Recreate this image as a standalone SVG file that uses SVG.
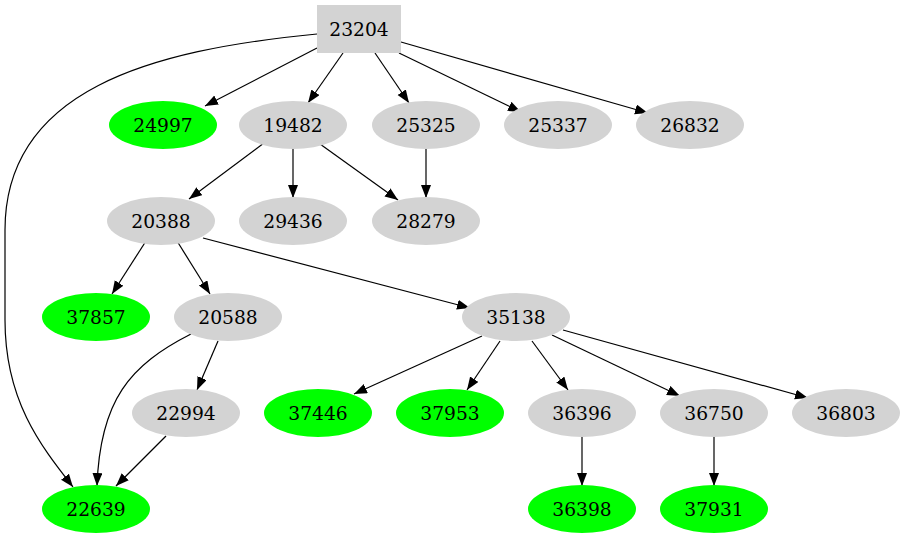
<svg xmlns="http://www.w3.org/2000/svg" width="906" height="539" viewBox="0 0 906 539">
<style>
.g ellipse, .g rect{fill:#d3d3d3;stroke:none}
.v ellipse{fill:#00ff00;stroke:none}
text{font-family:"DejaVu Serif","Liberation Serif",serif;font-size:18.7px;fill:#000;text-anchor:middle}
#edges path{fill:none;stroke:#000;stroke-width:1.2;marker-end:url(#ah)}
</style>
<defs>
<marker id="ah" markerUnits="userSpaceOnUse" markerWidth="14" markerHeight="11" refX="13" refY="5" orient="auto">
<path d="M0,0 L13,5 L0,10 z" fill="#000"/>
</marker>
</defs>
<rect width="906" height="539" fill="#fff"/>
<g id="edges">
<path d="M317,48 L205,106"/>
<path d="M343,53 L308,103"/>
<path d="M375,53 L409,103"/>
<path d="M399,53 L521,112"/>
<path d="M401,42 L648,113"/>
<path d="M317,34 C150,50 5,90 5,230 L5,320 C5,400 40,445 73,487"/>
<path d="M264,143 L189,199"/>
<path d="M293,149 L293,198"/>
<path d="M320,144 L398,200"/>
<path d="M426,149 L426,198"/>
<path d="M146,241 L112,294"/>
<path d="M177,241 L210,294"/>
<path d="M203,238 L470,308"/>
<path d="M191,334 C130,365 100,400 97,486"/>
<path d="M218,341 L197,390"/>
<path d="M166,436 L116,486"/>
<path d="M482,336 L354,394"/>
<path d="M500,341 L467,390"/>
<path d="M532,341 L568,390"/>
<path d="M552,335 L680,396"/>
<path d="M563,330 L808,398"/>
<path d="M582,437 L582,486"/>
<path d="M714,437 L714,486"/>
</g>
<g id="n23204" class="g"><rect x="317" y="5" width="84" height="48"/><text x="359" y="35.5">23204</text></g>
<g id="n24997" class="v"><ellipse cx="163" cy="125" rx="54" ry="24"/><text x="163" y="131.5">24997</text></g>
<g id="n19482" class="g"><ellipse cx="293" cy="125" rx="54" ry="24"/><text x="293" y="131.5">19482</text></g>
<g id="n25325" class="g"><ellipse cx="426" cy="125" rx="54" ry="24"/><text x="426" y="131.5">25325</text></g>
<g id="n25337" class="g"><ellipse cx="558" cy="125" rx="54" ry="24"/><text x="558" y="131.5">25337</text></g>
<g id="n26832" class="g"><ellipse cx="690" cy="125" rx="54" ry="24"/><text x="690" y="131.5">26832</text></g>
<g id="n20388" class="g"><ellipse cx="161" cy="221" rx="54" ry="24"/><text x="161" y="227.5">20388</text></g>
<g id="n29436" class="g"><ellipse cx="293" cy="221" rx="54" ry="24"/><text x="293" y="227.5">29436</text></g>
<g id="n28279" class="g"><ellipse cx="426" cy="221" rx="54" ry="24"/><text x="426" y="227.5">28279</text></g>
<g id="n37857" class="v"><ellipse cx="96" cy="317" rx="54" ry="24"/><text x="96" y="323.5">37857</text></g>
<g id="n20588" class="g"><ellipse cx="228" cy="317" rx="54" ry="24"/><text x="228" y="323.5">20588</text></g>
<g id="n35138" class="g"><ellipse cx="516" cy="317" rx="54" ry="24"/><text x="516" y="323.5">35138</text></g>
<g id="n22994" class="g"><ellipse cx="186" cy="413" rx="54" ry="24"/><text x="186" y="419.5">22994</text></g>
<g id="n37446" class="v"><ellipse cx="318" cy="413" rx="54" ry="24"/><text x="318" y="419.5">37446</text></g>
<g id="n37953" class="v"><ellipse cx="450" cy="413" rx="54" ry="24"/><text x="450" y="419.5">37953</text></g>
<g id="n36396" class="g"><ellipse cx="582" cy="413" rx="54" ry="24"/><text x="582" y="419.5">36396</text></g>
<g id="n36750" class="g"><ellipse cx="714" cy="413" rx="54" ry="24"/><text x="714" y="419.5">36750</text></g>
<g id="n36803" class="g"><ellipse cx="846" cy="413" rx="54" ry="24"/><text x="846" y="419.5">36803</text></g>
<g id="n22639" class="v"><ellipse cx="96" cy="509" rx="54" ry="24"/><text x="96" y="515.5">22639</text></g>
<g id="n36398" class="v"><ellipse cx="582" cy="509" rx="54" ry="24"/><text x="582" y="515.5">36398</text></g>
<g id="n37931" class="v"><ellipse cx="714" cy="509" rx="54" ry="24"/><text x="714" y="515.5">37931</text></g>
</svg>
